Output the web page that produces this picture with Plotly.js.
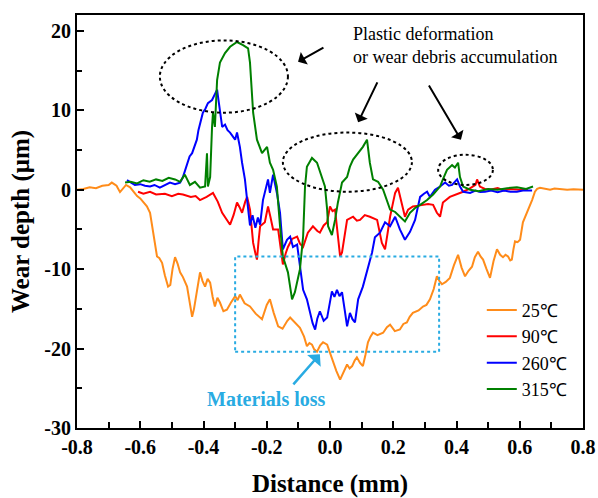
<!DOCTYPE html>
<html><head><meta charset="utf-8">
<script src="https://cdn.plot.ly/plotly-3.0.1.min.js"></script>
<style>html,body{margin:0;padding:0;background:#fff}</style>
</head><body><div id="chart" style="width:598px;height:498px"></div>
<script>
// ---- data ----
const seriesNames = ["25\u2103", "90\u2103", "260\u2103", "315\u2103"];
const seriesColors = ["#ff8c1a", "#ff0000", "#0000ff", "#008000"];

const x25 = [-0.80,-0.78,-0.76,-0.74,-0.72,-0.70,-0.69,-0.675,-0.664,-0.655,-0.645,-0.632,-0.62,-0.61,-0.60,-0.59,-0.579,-0.569,-0.56,-0.553,-0.547,-0.54,-0.531,-0.522,-0.512,-0.505,-0.498,-0.49,-0.482,-0.474,-0.465,-0.452,-0.444,-0.436,-0.43,-0.422,-0.411,-0.403,-0.395,-0.387,-0.379,-0.371,-0.364,-0.356,-0.348,-0.337,-0.326,-0.313,-0.30,-0.292,-0.285,-0.27,-0.253,-0.235,-0.215,-0.2,-0.19,-0.178,-0.164,-0.15,-0.135,-0.126,-0.11,-0.095,-0.082,-0.073,-0.065,-0.057,-0.05,-0.041,-0.031,-0.022,-0.009,0.0,0.009,0.02,0.032,0.044,0.054,0.062,0.07,0.078,0.085,0.095,0.104,0.112,0.12,0.128,0.136,0.15,0.168,0.18,0.19,0.205,0.221,0.232,0.243,0.252,0.262,0.28,0.294,0.305,0.316,0.328,0.338,0.346,0.354,0.366,0.379,0.392,0.405,0.416,0.427,0.438,0.449,0.458,0.468,0.476,0.484,0.495,0.506,0.517,0.528,0.538,0.547,0.555,0.563,0.57,0.575,0.58,0.585,0.593,0.601,0.61,0.623,0.631,0.639,0.648,0.655,0.664,0.68,0.696,0.71,0.727,0.75,0.77,0.79,0.80];
const y25 = [0.0,0.1,0.3,0.2,0.5,0.6,0.9,0.5,-0.3,0.2,0.6,0.3,-0.3,-0.8,-1.1,-1.6,-2.1,-2.9,-5.0,-7.0,-8.4,-8.6,-9.2,-10.8,-12.2,-12.0,-10.0,-8.5,-9.3,-10.4,-11.0,-12.2,-14.0,-16.0,-15.0,-13.0,-10.4,-11.5,-12.2,-11.2,-11.7,-13.5,-14.7,-13.6,-14.2,-15.3,-15.1,-14.2,-13.4,-13.9,-13.2,-14.3,-14.7,-15.6,-16.3,-14.5,-13.8,-15.5,-17.2,-17.5,-16.5,-16.1,-16.8,-17.4,-18.5,-19.7,-19.3,-19.5,-20.1,-20.4,-19.6,-19.2,-19.5,-20.6,-21.7,-22.8,-23.9,-22.8,-22.0,-22.5,-22.2,-21.5,-21.1,-21.8,-22.2,-20.8,-19.2,-18.5,-18.0,-18.3,-18.0,-17.3,-17.0,-17.8,-17.6,-16.9,-16.7,-16.0,-15.5,-15.2,-14.7,-14.5,-13.8,-12.5,-10.9,-11.5,-11.9,-11.6,-11.1,-9.5,-8.2,-9.8,-10.9,-10.2,-9.7,-8.5,-7.8,-8.4,-8.8,-10.0,-11.1,-9.0,-7.5,-8.2,-8.5,-8.2,-8.4,-8.9,-8.8,-7.5,-6.5,-6.6,-6.3,-4.1,-2.9,-2.2,-1.3,-0.25,0.1,0.25,0.1,0.0,0.15,0.1,0.0,0.05,0.0,0.0];

const x90 = [-0.607,-0.59,-0.569,-0.55,-0.522,-0.5,-0.48,-0.465,-0.44,-0.425,-0.411,-0.39,-0.37,-0.355,-0.341,-0.33,-0.316,-0.305,-0.294,-0.286,-0.278,-0.268,-0.262,-0.253,-0.243,-0.236,-0.231,-0.226,-0.221,-0.206,-0.196,-0.188,-0.18,-0.164,-0.155,-0.149,-0.14,-0.133,-0.12,-0.104,-0.095,-0.085,-0.07,-0.054,-0.04,-0.032,-0.02,-0.009,0.0,0.008,0.016,0.022,0.032,0.038,0.046,0.054,0.073,0.085,0.095,0.11,0.126,0.14,0.149,0.164,0.174,0.182,0.19,0.2,0.206,0.215,0.222,0.228,0.237,0.247,0.262,0.28,0.294,0.31,0.326,0.338,0.348,0.357,0.379,0.4,0.421,0.44,0.452,0.46,0.465,0.474,0.49,0.506,0.53,0.55,0.569,0.6,0.626];
const y90 = [-0.25,-0.5,-0.25,-0.6,-0.5,-0.8,-0.5,-0.6,-0.9,-0.8,-1.3,-0.9,-0.4,-1.5,-2.9,-3.5,-4.4,-3.2,-1.6,-2.2,-2.9,-1.5,-0.9,-2.5,-6.7,-8.0,-8.8,-6.5,-4.6,-4.1,-2.1,-3.5,-5.0,-5.0,-7.5,-9.4,-8.0,-7.2,-6.2,-5.9,-6.8,-7.2,-5.4,-4.6,-5.2,-5.4,-4.5,-4.1,-2.1,-2.7,-2.5,-5.0,-8.4,-7.9,-5.5,-3.8,-3.4,-3.9,-3.8,-3.2,-3.4,-3.6,-3.8,-6.7,-7.5,-5.5,-3.4,-1.5,-0.4,0.25,-1.0,-2.1,-3.4,-2.5,-2.1,-2.0,-1.9,-1.8,-1.9,-2.9,-3.4,-1.6,-0.9,-0.6,-0.25,0.1,0.4,0.6,1.3,0.4,0.1,0.0,0.2,-0.1,0.1,0.0,0.1];

const x260 = [-0.642,-0.63,-0.617,-0.6,-0.585,-0.569,-0.555,-0.538,-0.52,-0.506,-0.49,-0.474,-0.465,-0.452,-0.444,-0.436,-0.428,-0.421,-0.416,-0.411,-0.402,-0.394,-0.386,-0.373,-0.365,-0.357,-0.354,-0.348,-0.341,-0.332,-0.324,-0.316,-0.308,-0.300,-0.294,-0.285,-0.278,-0.269,-0.262,-0.253,-0.245,-0.236,-0.228,-0.221,-0.212,-0.196,-0.19,-0.18,-0.167,-0.158,-0.149,-0.136,-0.126,-0.117,-0.104,-0.095,-0.085,-0.073,-0.063,-0.055,-0.047,-0.04,-0.032,-0.02,-0.009,0.0,0.006,0.014,0.022,0.03,0.038,0.046,0.054,0.063,0.071,0.079,0.089,0.104,0.117,0.133,0.142,0.158,0.174,0.19,0.206,0.221,0.237,0.253,0.269,0.285,0.297,0.307,0.316,0.332,0.348,0.364,0.376,0.386,0.402,0.411,0.421,0.443,0.46,0.475,0.49,0.51,0.53,0.55,0.57,0.591,0.61,0.639];
const y260 = [1.2,0.9,0.6,0.7,0.5,0.4,0.6,0.25,0.6,0.9,0.7,0.9,1.6,3.4,4.2,4.6,5.5,6.3,7.5,8.4,9.7,10.2,10.9,11.3,12.0,12.6,11.7,9.7,7.9,8.2,7.5,7.2,6.8,6.3,7.2,5.4,3.4,1.3,-1.3,-4.5,-3.2,-4.8,-3.5,-4.4,-1.3,1.3,-0.4,1.9,-0.6,-2.9,-7.5,-6.3,-5.9,-7.2,-6.9,-9.4,-12.6,-13.8,-15.7,-16.8,-17.6,-16.2,-15.3,-16.5,-16.1,-14.0,-12.8,-13.5,-12.6,-13.4,-12.9,-15.0,-17.2,-15.5,-16.3,-16.7,-13.8,-12.2,-10.4,-7.9,-6.0,-5.4,-4.1,-4.6,-3.4,-5.0,-6.3,-5.3,-3.8,-0.9,-0.5,-0.25,-0.9,0.0,0.4,0.9,0.5,0.6,1.3,0.4,-0.25,-0.4,-0.1,-0.3,-0.25,-0.1,-0.3,-0.1,-0.25,-0.25,-0.1,-0.1];

const x315 = [-0.648,-0.63,-0.61,-0.59,-0.57,-0.55,-0.53,-0.51,-0.49,-0.474,-0.459,-0.443,-0.427,-0.411,-0.395,-0.389,-0.386,-0.379,-0.373,-0.37,-0.364,-0.357,-0.348,-0.332,-0.316,-0.294,-0.275,-0.259,-0.253,-0.243,-0.231,-0.215,-0.199,-0.19,-0.18,-0.168,-0.158,-0.149,-0.133,-0.12,-0.111,-0.095,-0.085,-0.079,-0.073,-0.057,-0.041,-0.025,-0.016,-0.009,-0.006,0.006,0.016,0.025,0.038,0.054,0.063,0.073,0.09,0.104,0.117,0.126,0.136,0.152,0.168,0.19,0.206,0.221,0.237,0.253,0.269,0.285,0.307,0.326,0.348,0.357,0.37,0.386,0.395,0.405,0.411,0.421,0.443,0.47,0.5,0.53,0.56,0.591,0.62,0.642];
const y315 = [0.9,1.0,0.8,1.2,1.0,1.3,1.1,1.5,1.3,1.0,1.9,0.6,1.0,0.25,0.4,4.6,0.4,1.6,7.9,9.7,7.9,13.8,16.0,17.2,18.0,18.6,18.2,17.8,16.0,9.7,6.3,4.6,5.4,3.4,2.5,0.4,-4.6,-8.4,-10.4,-13.8,-12.9,-10.0,-5.9,0.4,2.9,4.0,3.4,1.6,0.4,-2.5,-4.6,-5.7,-3.8,-1.6,0.9,1.6,2.9,3.8,4.6,5.4,6.3,3.4,1.3,1.0,0.0,-2.5,-2.8,-3.4,-4.0,-2.9,-2.3,-1.9,-1.3,-0.6,0.4,1.3,2.5,3.1,2.8,3.4,1.6,0.4,0.0,-0.2,0.1,0.0,0.2,0.3,0.1,0.4];

const xTickVals = [-0.8,-0.6,-0.4,-0.2,0.0,0.2,0.4,0.6,0.8];
const xTickText = ["-0.8","-0.6","-0.4","-0.2","0.0","0.2","0.4","0.6","0.8"];
const yTickVals = [-30,-20,-10,0,10,20];
const yTickText = ["-30","-20","-10","0","10","20"];

const xs = [x25, x90, x260, x315];
const ys = [y25, y90, y260, y315];

const serif = "Liberation Serif, Times New Roman, serif";
const traces = xs.map((x, i) => ({
  type: "scatter", mode: "lines", x: x, y: ys[i], name: seriesNames[i],
  line: {color: seriesColors[i], width: 2}
}));

const lightBlue = "#29abe2";
const layout = {
  width: 598, height: 498,
  margin: {l: 77, r: 15, t: 15, b: 70},
  paper_bgcolor: "#fff", plot_bgcolor: "#fff",
  font: {family: serif, color: "#000"},
  showlegend: true,
  legend: {x: 0.80, y: 0.33, xanchor: "left", yanchor: "top",
           bgcolor: "rgba(0,0,0,0)", font: {family: serif, size: 18, color: "#000"},
           tracegroupgap: 0},
  xaxis: {
    range: [-0.8, 0.8], tickmode: "array", tickvals: xTickVals, ticktext: xTickText,
    ticks: "inside", ticklen: 7, tickwidth: 2, tickcolor: "#000",
    showline: true, linewidth: 2, linecolor: "#000", mirror: true,
    showgrid: false, zeroline: false,
    tickfont: {family: serif, size: 20, weight: "bold", color: "#000"},
    minor: {tickmode: "linear", tick0: -0.8, dtick: 0.1, ticks: "inside", ticklen: 6, tickwidth: 2, tickcolor: "#000", showgrid: false},
    title: {text: "Distance (mm)", font: {family: serif, size: 25, weight: "bold", color: "#000"}, standoff: 17}
  },
  yaxis: {
    range: [-30, 22], tickmode: "array", tickvals: yTickVals, ticktext: yTickText,
    ticks: "inside", ticklen: 7, tickwidth: 2, tickcolor: "#000",
    showline: true, linewidth: 2, linecolor: "#000", mirror: true,
    showgrid: false, zeroline: false,
    tickfont: {family: serif, size: 20, weight: "bold", color: "#000"},
    minor: {tickmode: "linear", tick0: -30, dtick: 5, ticks: "inside", ticklen: 5, tickwidth: 2, tickcolor: "#000", showgrid: false},
    title: {text: "Wear depth (\u03bcm)", font: {family: serif, size: 25, weight: "bold", color: "#000"}, standoff: 8}
  },
  shapes: [
    {type: "circle", xref: "x", yref: "y", x0: -0.538, x1: -0.133, y0: 9.7, y1: 18.8, line: {color: "#000", width: 2, dash: "dot"}},
    {type: "circle", xref: "x", yref: "y", x0: -0.149, x1: 0.259, y0: -0.25, y1: 7.2, line: {color: "#000", width: 2, dash: "dot"}},
    {type: "circle", xref: "x", yref: "y", x0: 0.342, x1: 0.515, y0: 0.6, y1: 4.4, line: {color: "#000", width: 2, dash: "dot"}},
    {type: "rect", xref: "x", yref: "y", x0: -0.300, x1: 0.345, y0: -20.4, y1: -8.4, line: {color: lightBlue, width: 2, dash: "dot"}}
  ],
  annotations: [
    {xref: "x", yref: "y", x: 0.066, y: 18.1, xanchor: "left", yanchor: "middle", align: "left", showarrow: false,
     text: "Plastic deformation<br>or wear debris accumulation", font: {family: serif, size: 18, color: "#000"}},
    {xref: "x", yref: "y", x: -0.101, y: 16.1, ax: -0.016, ay: 18.0, axref: "x", ayref: "y", text: "",
     showarrow: true, arrowhead: 1, arrowsize: 1.2, arrowwidth: 2, arrowcolor: "#000"},
    {xref: "x", yref: "y", x: 0.089, y: 8.5, ax: 0.152, ay: 13.7, axref: "x", ayref: "y", text: "",
     showarrow: true, arrowhead: 1, arrowsize: 1.2, arrowwidth: 2, arrowcolor: "#000"},
    {xref: "x", yref: "y", x: 0.414, y: 6.3, ax: 0.31, ay: 13.3, axref: "x", ayref: "y", text: "",
     showarrow: true, arrowhead: 1, arrowsize: 1.2, arrowwidth: 2, arrowcolor: "#000"},
    {xref: "x", yref: "y", x: -0.032, y: -20.7, ax: -0.12, ay: -24.7, axref: "x", ayref: "y", text: "",
     showarrow: true, arrowhead: 1, arrowsize: 1.2, arrowwidth: 2.5, arrowcolor: lightBlue},
    {xref: "x", yref: "y", x: -0.2, y: -26.4, xanchor: "center", yanchor: "middle", showarrow: false,
     text: "Materials loss", font: {family: serif, size: 20, weight: "bold", color: lightBlue}}
  ]
};

Plotly.newPlot("chart", traces, layout, {displayModeBar: false, staticPlot: true});
</script>
</body></html>
